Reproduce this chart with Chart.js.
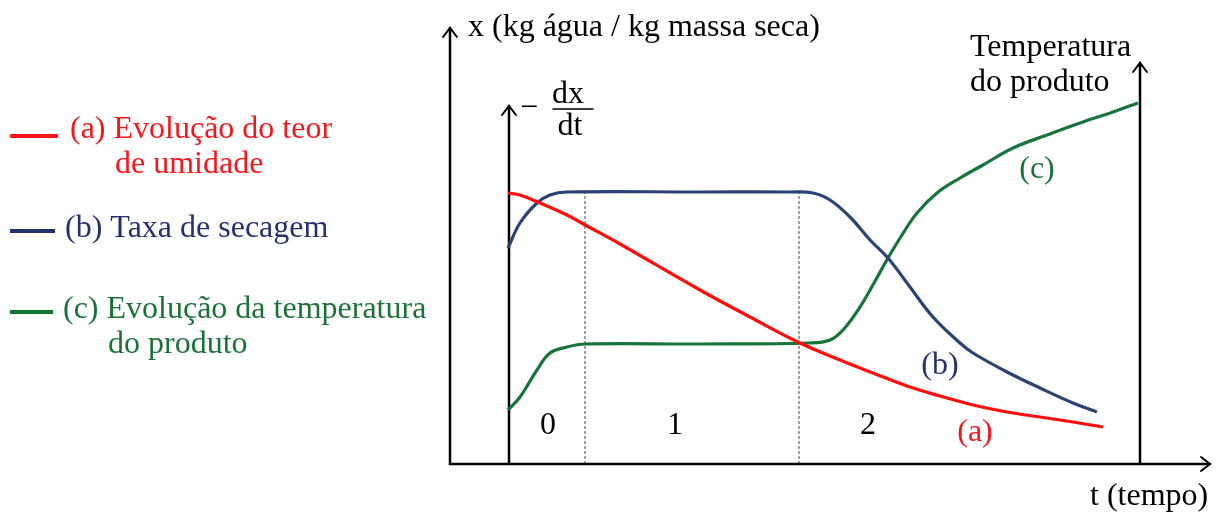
<!DOCTYPE html>
<html>
<head>
<meta charset="utf-8">
<script src="https://cdn.jsdelivr.net/npm/chart.js@4"></script>
<style>
  html, body { margin: 0; padding: 0; background: #fff; }
  #wrap { width: 1219px; height: 515px; }
</style>
</head>
<body>
<div id="wrap"><canvas id="chart"></canvas></div>
<script>
// time axis (arbitrary units, 0 = origin of main axis) and curve heights
const teorT   = [58, 70, 90, 117, 137, 170, 250, 300, 350, 390, 423, 457, 490, 523, 557, 590, 623, 653];
const teorY   = [271, 269, 261, 249, 238, 220, 174, 147, 121, 104, 91, 78, 68, 59, 52, 47, 42, 37];

const taxaT   = [58, 70, 87, 100, 117, 250, 340, 363, 380, 400, 420, 438, 460, 483, 510, 523, 557, 590, 623, 647];
const taxaY   = [216, 241, 261, 269, 272, 272, 272, 271, 264, 247, 224, 206, 177, 147, 121, 111, 92, 76, 61, 52];

const tempT   = [58, 70, 87, 100, 117, 135, 250, 360, 380, 393, 410, 424, 438, 452, 467, 487, 510, 533, 563, 597, 630, 663, 688];
const tempY   = [54, 67, 94, 111, 117, 120, 120, 121, 124, 134, 157, 181, 206, 229, 251, 271, 286, 299, 316, 329, 341, 352, 361];

const faseX   = [135, 349];           // dashed period boundaries
const faseLbl = ['0', '1', '2'];
const faseLx  = [98, 225, 418];

const legendas = [
  { cor: '#f5161c', linhas: ['(a) Evolução do teor', 'de umidade'] },
  { cor: '#26306e', linhas: ['(b) Taxa de secagem'] },
  { cor: '#1b7236', linhas: ['(c) Evolução da temperatura', 'do produto'] }
];

const pts = (xs, ys) => xs.map((x, i) => ({ x: x, y: ys[i] }));
const serif = '"Liberation Serif", "DejaVu Serif", serif';

function seta(ctx, x, y, dir) {
  ctx.beginPath();
  if (dir === 'up') {
    ctx.moveTo(x - 7, y + 9); ctx.lineTo(x, y); ctx.lineTo(x + 7, y + 9);
  } else {
    ctx.moveTo(x - 9, y - 7); ctx.lineTo(x, y); ctx.lineTo(x - 9, y + 7);
  }
  ctx.stroke();
}

const desenho = {
  id: 'desenho',
  beforeDatasetsDraw(chart) {
    const ctx = chart.ctx;
    const sx = chart.scales.x, sy = chart.scales.y;
    const X = v => sx.getPixelForValue(v), Y = v => sy.getPixelForValue(v);
    ctx.save();
    // dashed period lines
    ctx.strokeStyle = '#444';
    ctx.lineWidth = 1;
    ctx.setLineDash([3, 2]);
    faseX.forEach(f => {
      ctx.beginPath();
      ctx.moveTo(X(f), Y(0));
      ctx.lineTo(X(f), Y(272));
      ctx.stroke();
    });
    ctx.setLineDash([]);
    // axes
    ctx.strokeStyle = '#000';
    ctx.lineWidth = 2.5;
    ctx.lineCap = 'round';
    ctx.beginPath();
    ctx.moveTo(X(0), Y(436)); ctx.lineTo(X(0), Y(0)); ctx.lineTo(X(760), Y(0));
    ctx.moveTo(X(59), Y(0)); ctx.lineTo(X(59), Y(358));
    ctx.moveTo(X(690), Y(0)); ctx.lineTo(X(690), Y(401));
    ctx.stroke();
    ctx.lineWidth = 2;
    seta(ctx, X(0), Y(436), 'up');
    seta(ctx, X(59), Y(358), 'up');
    seta(ctx, X(690), Y(401), 'up');
    seta(ctx, X(760), Y(0), 'right');

    // texts
    ctx.textBaseline = 'middle';
    ctx.font = '32px ' + serif;
    ctx.fillStyle = '#000';
    ctx.textAlign = 'left';
    ctx.fillText('x (kg água / kg massa seca)', X(18), Y(436));
    ctx.fillText('Temperatura', X(520), Y(416));
    ctx.fillText('do produto', X(520), Y(381));
    ctx.fillText('t (tempo)', X(640), Y(-33));
    // -dx/dt
    ctx.textAlign = 'center';
    ctx.fillText('dx', X(118), Y(369));
    ctx.fillText('dt', X(120), Y(337));
    ctx.fillText('\u2212', X(79), Y(355));
    ctx.lineWidth = 1.5;
    ctx.beginPath();
    ctx.moveTo(X(103), Y(355)); ctx.lineTo(X(143), Y(355));
    ctx.stroke();
    // phase numbers
    faseLbl.forEach((l, i) => ctx.fillText(l, X(faseLx[i]), Y(38)));
    // curve tags
    ctx.fillStyle = legendas[0].cor; ctx.fillText('(a)', X(525), Y(31));
    ctx.fillStyle = legendas[1].cor; ctx.fillText('(b)', X(490), Y(98));
    ctx.fillStyle = legendas[2].cor; ctx.fillText('(c)', X(587), Y(294));

    // legend at left
    const legY = [130, 229, 310];
    const linY = [136, 231, 312];
    const legX = [70, 65, 63];
    const fimX = [58, 55, 53];
    const indent = [45, 0, 45];
    legendas.forEach((l, i) => {
      ctx.strokeStyle = l.cor;
      ctx.lineWidth = 4;
      ctx.lineCap = 'butt';
      ctx.beginPath();
      ctx.moveTo(10, linY[i]); ctx.lineTo(fimX[i], linY[i]);
      ctx.stroke();
      ctx.fillStyle = l.cor;
      ctx.textAlign = 'left';
      l.linhas.forEach((t, j) => {
        ctx.fillText(t, legX[i] + (j === 0 ? 0 : indent[i]), legY[i] + j * 35);
      });
    });
    ctx.restore();
  }
};

new Chart(document.getElementById('chart'), {
  type: 'line',
  data: {
    datasets: [
      { label: 'teor', data: pts(teorT, teorY), borderColor: '#ff0d0d' },
      { label: 'taxa', data: pts(taxaT, taxaY), borderColor: '#2c4274' },
      { label: 'temp', data: pts(tempT, tempY), borderColor: '#18743a' }
    ]
  },
  options: {
    responsive: true,
    maintainAspectRatio: false,
    animation: false,
    layout: { padding: 0 },
    elements: {
      point: { radius: 0 },
      line: { borderWidth: 3.2, tension: 0.4, fill: false }
    },
    plugins: { legend: { display: false }, tooltip: { enabled: false } },
    scales: {
      x: { type: 'linear', min: -450, max: 769, display: false },
      y: { type: 'linear', min: -51, max: 464, display: false }
    }
  },
  plugins: [desenho]
});
</script>
</body>
</html>
